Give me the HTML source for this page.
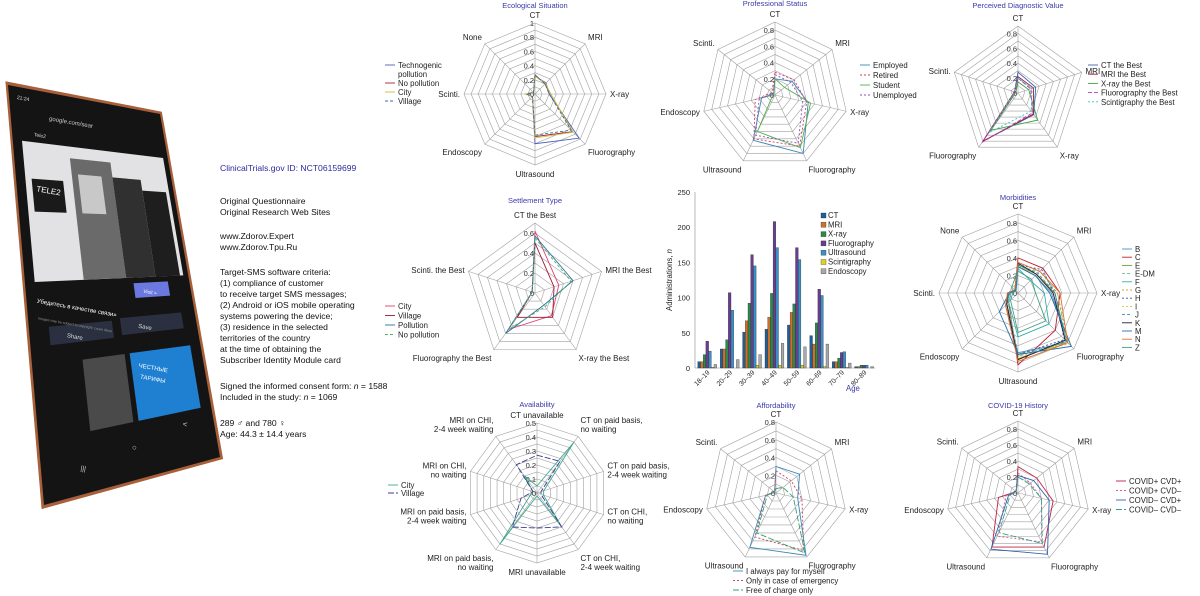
<!DOCTYPE html>
<html><head><meta charset="utf-8"><style>
html,body{margin:0;padding:0;background:#fff;}
svg{display:block;font-family:"Liberation Sans","Noto Sans CJK SC",sans-serif;}
</style></head><body>
<svg id="fig" width="1200" height="596" viewBox="0 0 1200 596" xmlns="http://www.w3.org/2000/svg">
<g id="phone"></g>
<g id="info" font-size="8.6" fill="#111">
<text x="220" y="171" fill="#2a2aa0">ClinicalTrials.gov ID: NCT06159699</text>
<text x="220" y="204">Original Questionnaire</text>
<text x="220" y="215">Original Research Web Sites</text>
<text x="220" y="239">www.Zdorov.Expert</text>
<text x="220" y="250">www.Zdorov.Tpu.Ru</text>
<text x="220" y="275">Target-SMS software criteria:</text>
<text x="220" y="286">(1) compliance of customer</text>
<text x="220" y="297">to receive target SMS messages;</text>
<text x="220" y="308">(2) Android or iOS mobile operating</text>
<text x="220" y="319">systems powering the device;</text>
<text x="220" y="330">(3) residence in the selected</text>
<text x="220" y="341">territories of the country</text>
<text x="220" y="352">at the time of obtaining the</text>
<text x="220" y="363">Subscriber Identity Module card</text>
<text x="220" y="389">Signed the informed consent form: <tspan font-style="italic">n</tspan> = 1588</text>
<text x="220" y="400">Included in the study: <tspan font-style="italic">n</tspan> = 1069</text>
<text x="220" y="426">289 ♂ and 780 ♀</text>
<text x="220" y="437">Age: 44.3 ± 14.4 years</text>
</g>
<g id="charts"></g>
</svg>
<script>
const NS="http://www.w3.org/2000/svg";
function mk(tag,attrs,parent){const e=document.createElementNS(NS,tag);for(const k in attrs)e.setAttribute(k,attrs[k]);(parent||document.getElementById('charts')).appendChild(e);return e;}

// ---------- Phone ----------
const ph=document.getElementById('phone');
const C={tl:[8,85],tr:[160,114],br:[220,457],bl:[44,505]};
function P(u,v){const x=(1-u)*(1-v)*C.tl[0]+u*(1-v)*C.tr[0]+u*v*C.br[0]+(1-u)*v*C.bl[0];const y=(1-u)*(1-v)*C.tl[1]+u*(1-v)*C.tr[1]+u*v*C.br[1]+(1-u)*v*C.bl[1];return x.toFixed(1)+','+y.toFixed(1);}
function quad(u0,v0,u1,v1,fill,name){const p=mk('polygon',{points:[P(u0,v0),P(u1,v0),P(u1,v1),P(u0,v1)].join(' '),fill:fill,'stroke-linejoin':'round'},ph);

return p;}
quad(-0.015,-0.008,1.015,1.008,'#a8603a','phone-frame');
quad(0,0,1,1,'#141414','phone-screen');
quad(0.06,0.13,0.97,0.47,'#e2e2e4','ad-image');
quad(0.36,0.16,0.62,0.47,'#6a6a6a','person-1');
quad(0.4,0.2,0.55,0.3,'#c8c8c8','person-1-face');
quad(0.62,0.2,0.8,0.47,'#303030','person-2');
quad(0.8,0.23,0.95,0.47,'#1e1e1e','person-3');
quad(0.1,0.22,0.3,0.3,'#1a1a1a','tele2-sign');
quad(0.66,0.485,0.87,0.525,'#6a78e0','visit-button');
quad(0.12,0.58,0.5,0.625,'#2a3040','share-button');
quad(0.55,0.575,0.92,0.62,'#2a3040','save-button');
quad(0.3,0.67,0.55,0.85,'#4a4a4a','thumb-1');
quad(0.58,0.67,0.94,0.85,'#1f7fd0','thumb-2');
function ptxt(u,v,s,size,fill,name){const [x,y]=P(u,v).split(',').map(Number);const t=mk('text',{x:x,y:y,'font-size':size,fill:fill,transform:`rotate(10 ${x} ${y})`},ph);t.textContent=s;

}
ptxt(0.05,0.03,'21:24','5','#ddd','status-time');
ptxt(0.25,0.07,'google.com/sear','6','#ccc','url');
ptxt(0.14,0.115,'Tele2','5','#ddd','site-name');
ptxt(0.12,0.25,'TELE2','8','#fff','tele2-logo');
ptxt(0.06,0.52,'Убедитесь в качестве связи»','6','#fff','caption');
ptxt(0.71,0.512,'Visit >','5','#fff','visit-label');
ptxt(0.06,0.56,'Images may be subject to copyright. Learn More','3.5','#999','copyright');
ptxt(0.22,0.61,'Share','6','#ddd','share-label');
ptxt(0.65,0.605,'Save','6','#ddd','save-label');
ptxt(0.62,0.71,'ЧЕСТНЫЕ','6','#fff','thumb-title');
ptxt(0.62,0.74,'ТАРИФЫ','6','#fff','thumb-title');
ptxt(0.22,0.94,'|||','7','#ccc','nav-recent');
ptxt(0.52,0.92,'○','8','#ccc','nav-home');
ptxt(0.82,0.89,'<','8','#ccc','nav-back');

// ---------- Radar data ----------
const ax7=['CT','MRI','X-ray','Fluorography','Ultrasound','Endoscopy','Scinti.'];
const ecoAxes=['CT','MRI','X-ray','Fluorography','Ultrasound','Endoscopy','Scinti.','None'];
const ecoTicks=['0','0.2','0.4','0.6','0.8','1'];
const ecoNames=['Technogenic\npollution','No pollution','City','Village'];
const ecoTechno=[0.25,0.22,0.2,0.88,0.7,0.05,0.12,0.03];
const ecoNoPoll=[0.27,0.2,0.22,0.75,0.6,0.05,0.13,0.03];
const ecoCity=[0.25,0.21,0.22,0.76,0.62,0.05,0.13,0.03];
const ecoVillage=[0.27,0.2,0.2,0.72,0.58,0.05,0.12,0.03];

const profNames=['Employed','Retired','Student','Unemployed'];
const profTicks=['0','0.2','0.4','0.6','0.8'];
const profEmployed=[0.2,0.27,0.42,0.8,0.62,0.17,0.02];
const profRetired=[0.28,0.3,0.4,0.7,0.6,0.25,0.05];
const profStudent=[0.2,0.15,0.45,0.72,0.5,0.03,0.02];
const profUnemployed=[0.25,0.25,0.35,0.66,0.55,0.2,0.03];

const percAxes=['CT','MRI','X-ray','Fluorography','Scinti.'];
const percNames=['CT the Best','MRI the Best','X-ray the Best','Fluorography the Best','Scintigraphy the Best'];
const percCT=[0.28,0.25,0.36,0.8,0.05];
const percMRI=[0.22,0.22,0.35,0.8,0.05];
const percXray=[0.15,0.15,0.45,0.62,0.03];
const percFluoro=[0.2,0.18,0.33,0.82,0.04];
const percScinti=[0.2,0.2,0.3,0.66,0.05];

const setAxes=['CT the Best','MRI the Best','X-ray the Best','Fluorography the Best','Scinti. the Best'];
const setTicks=['0','0.2','0.4','0.6'];
const setNames=['City','Village','Pollution','No pollution'];
const setCity=[0.62,0.25,0.28,0.45,0.03];
const setVillage=[0.5,0.2,0.3,0.3,0.03];
const setPollution=[0.57,0.4,0.15,0.5,0.03];
const setNoPoll=[0.55,0.38,0.17,0.45,0.03];

const morbNames=['B','C','E','E-DM','F','G','H','I','J','K','M','N','Z'];
const morbB=[0.3,0.28,0.38,0.8,0.68,0.2,0.1,0.04];
const morbC=[0.4,0.4,0.48,0.6,0.82,0.15,0.12,0.05];
const morbE=[0.32,0.3,0.42,0.78,0.75,0.18,0.1,0.04];
const morbEDM=[0.3,0.35,0.45,0.78,0.72,0.16,0.1,0.04];
const morbF=[0.28,0.2,0.3,0.5,0.5,0.15,0.08,0.03];
const morbG=[0.33,0.3,0.45,0.82,0.72,0.2,0.1,0.05];
const morbH=[0.32,0.38,0.42,0.75,0.7,0.18,0.1,0.04];
const morbI=[0.3,0.3,0.4,0.8,0.74,0.17,0.11,0.05];
const morbJ=[0.32,0.32,0.42,0.78,0.7,0.18,0.1,0.04];
const morbK=[0.34,0.3,0.4,0.76,0.76,0.18,0.12,0.05];
const morbM=[0.3,0.28,0.36,0.86,0.7,0.3,0.1,0.04];
const morbN=[0.35,0.35,0.48,0.8,0.78,0.2,0.12,0.05];
const morbZ=[0.25,0.22,0.2,0.45,0.45,0.12,0.06,0.1];

const avAxes=['CT unavailable','CT on paid basis,\nno waiting','CT on paid basis,\n2-4 week waiting','CT on CHI,\nno waiting','CT on CHI,\n2-4 week waiting','MRI unavailable','MRI on paid basis,\nno waiting','MRI on paid basis,\n2-4 week waiting','MRI on CHI,\nno waiting','MRI on CHI,\n2-4 week waiting'];
const avTicks=['0','0.1','0.2','0.3','0.4','0.5'];
const avNames=['City','Village'];
const avCity=[0.05,0.45,0.05,0.05,0.3,0.02,0.45,0.05,0.03,0.15];
const avVillage=[0.27,0.28,0.03,0.03,0.3,0.25,0.3,0.12,0.03,0.25];

const affNames=['I always pay for myself','Only in case of emergency','Free of charge only'];
const affPay=[0.3,0.34,0.25,0.78,0.68,0.12,0.02];
const affEmerg=[0.25,0.22,0.3,0.72,0.55,0.12,0.02];
const affFree=[0.05,0.1,0.2,0.75,0.5,0.1,0.02];

const covNames=['COVID+ CVD+','COVID+ CVD–','COVID– CVD+','COVID– CVD–'];
const covPP=[0.33,0.3,0.45,0.75,0.75,0.25,0.03];
const covPM=[0.25,0.2,0.3,0.68,0.6,0.15,0.03];
const covMP=[0.22,0.25,0.4,0.85,0.78,0.12,0.03];
const covMM=[0.2,0.18,0.3,0.7,0.55,0.1,0.03];

// ---------- Radar drawing ----------
function radar(o){
  const g=mk('g',{});
  
  
  const n=o.axes.length, ang=i=>2*Math.PI*i/n;
  const pt=(i,v)=>[o.cx+Math.sin(ang(i))*v/o.max*o.r, o.cy-Math.cos(ang(i))*v/o.max*o.r];
  for(let k=1;k<=o.rings;k++){
    const v=o.max*k/o.rings;
    const ring=mk('polygon',{points:o.axes.map((_,i)=>pt(i,v).join(',')).join(' '),fill:'none',stroke:'#a0a0a0','stroke-width':0.6},g);
    
    
  }
  o.axes.forEach((lab,i)=>{
    const [x,y]=pt(i,o.max);
    const l=mk('line',{x1:o.cx,y1:o.cy,x2:x,y2:y,stroke:'#a0a0a0','stroke-width':0.6},g);
    
    
    const s=Math.sin(ang(i)),c=Math.cos(ang(i));
    const lx=o.cx+s*(o.r+4),ly=o.cy-c*(o.r+4);
    const anchor=s>0.15?'start':(s<-0.15?'end':'middle');
    const lines=lab.split('\n');
    let y0=ly+3-(lines.length-1)*4.5;
    if(c>0.5) y0=ly-1-(lines.length-1)*9; if(c<-0.5) y0=ly+8;
    const t=mk('text',{x:lx,y:y0,'font-size':8,'text-anchor':anchor,fill:'#222'},g);
    
    
    lines.forEach((ln,j)=>{const ts=mk('tspan',{x:lx,dy:j?9:0},t);ts.textContent=ln;});
  });
  o.ticks.forEach(tk=>{
    const v=parseFloat(tk);
    const t=mk('text',{x:o.cx-1,y:o.cy-v/o.max*o.r+3,'font-size':7.5,'text-anchor':'end',fill:'#333'},g);
    t.textContent=tk;
    
    
  });
  o.series.forEach((s,si)=>{
    const p=mk('polygon',{points:s.map((v,i)=>pt(i,v).join(',')).join(' '),fill:'none',stroke:o.colors[si],'stroke-width':0.9,'stroke-dasharray':o.dash[si]||'none'},g);
    
    
  });
  const tt=mk('text',{x:o.cx,y:o.ty,'font-size':7.5,'text-anchor':'middle',fill:'#3a3aa8'},g);
  tt.textContent=o.title;
  
  
  let ly=o.ly;
  o.names.forEach((nm,si)=>{
    const li=mk('line',{x1:o.lx,y1:ly-3,x2:o.lx+10,y2:ly-3,stroke:o.colors[si],'stroke-width':0.9,'stroke-dasharray':o.dash[si]||'none'},g);
    
    
    const lines=nm.split('\n');
    lines.forEach(ln=>{
      const t=mk('text',{x:o.lx+13,y:ly,'font-size':7.8,fill:'#222'},g);
      t.textContent=ln;
      
      
      ly+=o.lstep;
    });
  });
}
radar({name:'ecological-radar',title:'Ecological Situation',cx:535,cy:94,r:71,max:1,rings:10,ty:8,axes:ecoAxes,ticks:ecoTicks,names:ecoNames,
 series:[ecoTechno,ecoNoPoll,ecoCity,ecoVillage],colors:['#4a60b8','#b02020','#c8c040','#3a70a0'],dash:['','','','3,2'],lx:385,ly:68,lstep:9});
radar({name:'professional-radar',title:'Professional Status',cx:775,cy:95,r:73,max:0.9,rings:9,ty:6,axes:ax7,ticks:profTicks,names:profNames,
 series:[profEmployed,profRetired,profStudent,profUnemployed],colors:['#3a88b8','#d04060','#50b050','#9050b0'],dash:['','2,2','','2,2'],lx:860,ly:68,lstep:10});
radar({name:'perceived-value-radar',title:'Perceived Diagnostic Value',cx:1018,cy:93,r:67,max:0.9,rings:9,ty:8,axes:percAxes,ticks:profTicks,names:percNames,
 series:[percCT,percMRI,percXray,percFluoro,percScinti],colors:['#4060b0','#a02040','#40a040','#b040b0','#40c0c0'],dash:['','','','4,2','2,2'],lx:1088,ly:68,lstep:9.2});
radar({name:'settlement-radar',title:'Settlement Type',cx:535,cy:293,r:70,max:0.7,rings:7,ty:203,axes:setAxes,ticks:setTicks,names:setNames,
 series:[setCity,setVillage,setPollution,setNoPoll],colors:['#e04070','#a01830','#2a70a0','#50b070'],dash:['','','','3,2'],lx:385,ly:309,lstep:9.5});
radar({name:'morbidities-radar',title:'Morbidities',cx:1018,cy:293,r:79,max:0.9,rings:9,ty:200,axes:ecoAxes,ticks:profTicks,names:morbNames,
 series:[morbB,morbC,morbE,morbEDM,morbF,morbG,morbH,morbI,morbJ,morbK,morbM,morbN,morbZ],
 colors:['#4a90c8','#c02030','#70a030','#60c0a0','#30b0b0','#e0a030','#3050a0','#d0c040','#4090a0','#202040','#2070b0','#e07030','#40a080'],
 dash:['','','','3,2','','2,2','2,2','2,2','3,2','','','',''],lx:1122,ly:252,lstep:8.2});
radar({name:'availability-radar',title:'Availability',cx:537,cy:493,r:70,max:0.5,rings:10,ty:407,axes:avAxes,ticks:avTicks,names:avNames,
 series:[avCity,avVillage],colors:['#40a890','#3a3a90'],dash:['','6,2'],lx:388,ly:488,lstep:8});
radar({name:'affordability-radar',title:'Affordability',cx:776,cy:493,r:71,max:0.8,rings:8,ty:408,axes:ax7,ticks:profTicks,names:affNames,
 series:[affPay,affEmerg,affFree],colors:['#3a88b8','#d04060','#30a070'],dash:['','2,2','6,2'],lx:733,ly:574,lstep:9.5});
radar({name:'covid-radar',title:'COVID-19 History',cx:1018,cy:493,r:72,max:0.9,rings:9,ty:408,axes:ax7,ticks:profTicks,names:covNames,
 series:[covPP,covPM,covMP,covMM],colors:['#c02040','#e06080','#3060b0','#30a090'],dash:['','2,2','','6,2'],lx:1116,ly:484,lstep:9.5});

// ---------- Bar chart ----------
const ageGroups=['18–19','20–29','30–39','40–49','50–59','60–69','70–79','80–89'];
const modNames=['CT','MRI','X-ray','Fluorography','Ultrasound','Scintigraphy','Endoscopy'];
const barCT=[9,27,51,55,61,46,9,2];
const barMRI=[9,27,67,72,79,34,9,2];
const barXray=[19,40,92,106,91,64,14,4];
const barFluoro=[38,107,161,208,171,112,22,4];
const barUS=[24,82,145,171,154,103,23,4];
const barScinti=[1,0,4,4,4,2,1,0];
const barEndo=[5,12,19,35,30,34,7,2];
const yTicks=[0,50,100,150,200,250];
const barColors=['#1f5f9a','#d07028','#2a8a4a','#6a3d8f','#3a90c4','#e0d020','#a8a8a8'];
(function(){
  const g=mk('g',{});
  
  
  const x0=696,gw=22.4,y0=368,yMax=250,h=176;
  const Y=v=>y0-v/yMax*h;
  yTicks.forEach(t=>{const tx=mk('text',{x:690,y:Y(t)+3,'font-size':7.5,'text-anchor':'end',fill:'#222'},g);tx.textContent=t;
    
    });
  const axl=mk('line',{x1:695,y1:Y(yMax),x2:695,y2:y0,stroke:'#888','stroke-width':0.6},g);
  
  
  const axb=mk('line',{x1:695,y1:y0,x2:x0+gw*ageGroups.length,y2:y0,stroke:'#888','stroke-width':0.6},g);
  
  
  const series=[barCT,barMRI,barXray,barFluoro,barUS,barScinti,barEndo];
  const bw=2.7;
  ageGroups.forEach((a,i)=>{
    const gx=x0+i*gw+1.8;
    series.forEach((s,si)=>{
      const r=mk('rect',{x:gx+si*bw,y:Y(s[i]),width:bw,height:y0-Y(s[i]),fill:barColors[si],stroke:'#222','stroke-width':0.3},g);
      
      
    });
    const cx=x0+i*gw+gw/2+3;
    const t=mk('text',{x:cx,y:373,'font-size':6.8,'text-anchor':'end',fill:'#222',transform:`rotate(-45 ${cx} 373)`},g);
    t.textContent=a;
    
    
  });
  const yt=mk('text',{x:0,y:0,'font-size':7.8,'text-anchor':'middle',fill:'#222',transform:'translate(672,280) rotate(-90)'},g);
  yt.innerHTML='Administrations, <tspan font-style="italic">n</tspan>';
  
  
  const xt=mk('text',{x:846,y:391,'font-size':7.8,fill:'#3a3aa8'},g);
  xt.textContent='Age';
  
  
  modNames.forEach((m,si)=>{
    const ly=218+si*9.3;
    const r=mk('rect',{x:821,y:ly-5,width:5,height:5,fill:barColors[si],stroke:'#222','stroke-width':0.3},g);
    
    
    const t=mk('text',{x:828,y:ly,'font-size':7.8,fill:'#222'},g);
    t.textContent=m;
    
    
  });
})();
</script>
</body></html>
